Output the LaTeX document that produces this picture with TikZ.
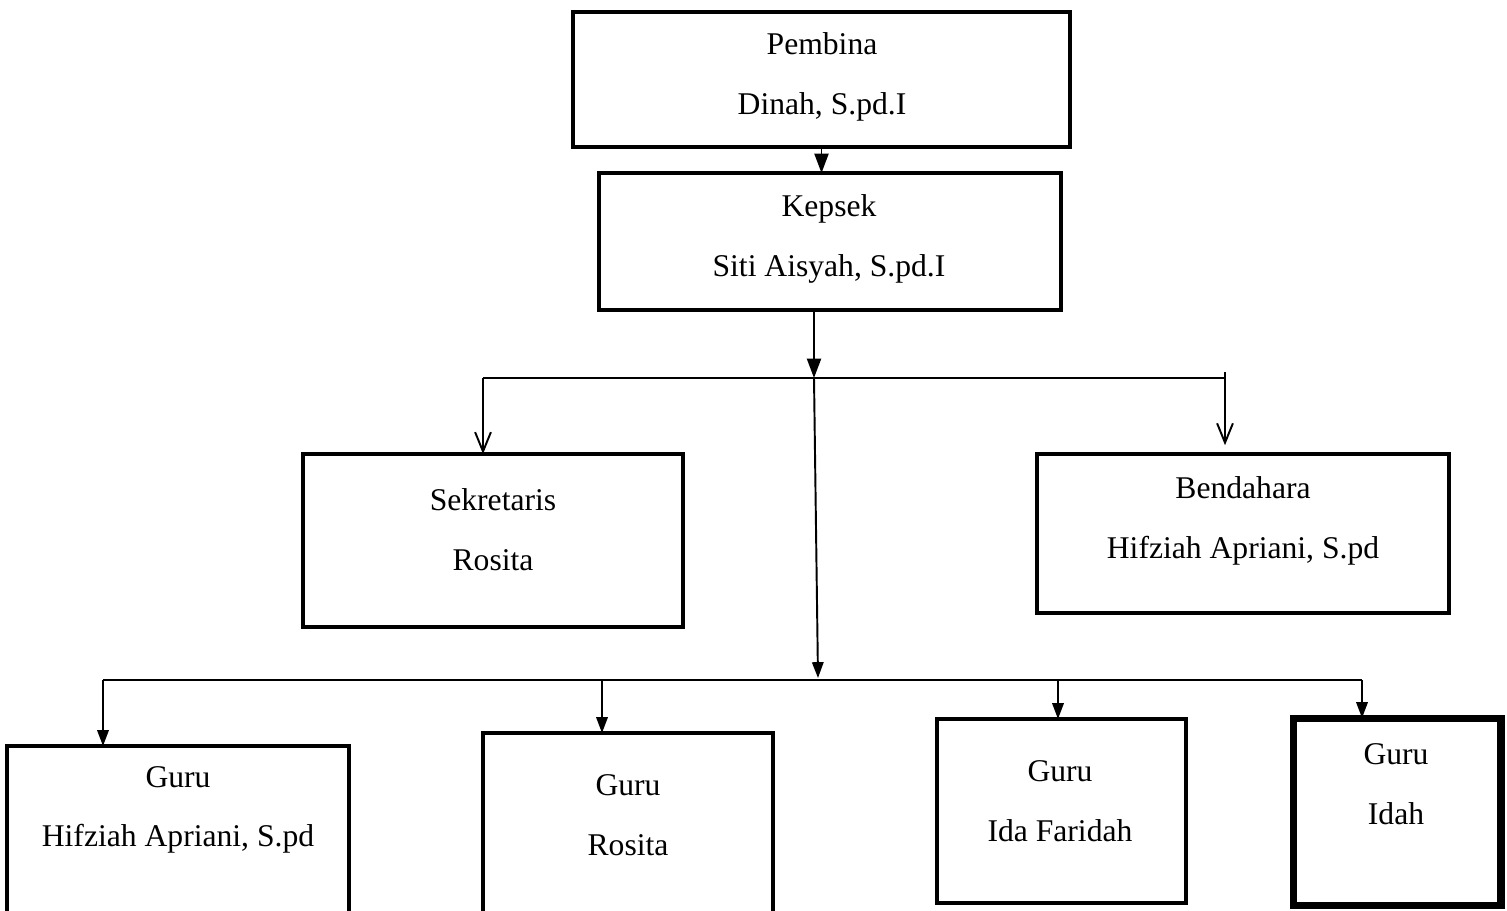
\documentclass[tikz,border=0pt]{standalone}
\usepackage{fontspec}
\setmainfont{Liberation Serif}
\usetikzlibrary{arrows.meta}
\begin{document}
\begin{tikzpicture}[x=0.02cm,y=-0.02cm,
  box/.style={draw, line width=2.7pt, inner sep=0pt, outer sep=0pt},
  txt/.style={align=center, font=\fontsize{18}{34}\selectfont},
  fat/.style={line width=1.1pt, -{Triangle[length=11pt,width=8pt]}},
  arr/.style={line width=1.1pt, -{Triangle[length=9pt,width=6.5pt]}},
  open/.style={line width=1.1pt, -{Straight Barb[length=11pt,width=9pt]}},
  hline/.style={line width=0.9pt}]
\useasboundingbox (0,0) rectangle (1507,911);
\clip (0,0) rectangle (1507,911);
% boxes
\node[box, minimum width=9.94cm, minimum height=2.70cm] (pem) at (821.5,79.5) {};
\node[box, minimum width=9.24cm, minimum height=2.74cm] (kep) at (830,241.5) {};
\node[box, minimum width=7.60cm, minimum height=3.46cm] (sek) at (493,540.5) {};
\node[box, minimum width=8.24cm, minimum height=3.18cm] (ben) at (1243,533.5) {};
\node[box, minimum width=6.84cm, minimum height=4.28cm] (g1) at (178,853) {};
\node[box, minimum width=5.80cm, minimum height=4.54cm] (g2) at (628,846.5) {};
\node[box, minimum width=4.98cm, minimum height=3.68cm] (g3) at (1061.5,811) {};
\node[box, line width=4pt, minimum width=4.16cm, minimum height=3.76cm] (g4) at (1397,812) {};
% texts
\node[txt] (pemt) at (822,77) {Pembina\\Dinah, S.pd.I};
\node[txt] (kept) at (829,239) {Kepsek\\Siti Aisyah, S.pd.I};
\node[txt] (sekt) at (493,530) {Sekretaris\\Rosita};
\node[txt] (bent) at (1243,521) {Bendahara\\Hifziah Apriani, S.pd};
\node[txt] (g1t) at (178,810) {Guru\\Hifziah Apriani, S.pd};
\node[txt] (g2t) at (628,815) {Guru\\Rosita};
\node[txt] (g3t) at (1060,801) {Guru\\Ida Faridah};
\node[txt] (g4t) at (1396,784) {Guru\\Idah};
% connectors
\draw[fat] (pem.south) -- (pem.south |- kep.north);
\coordinate (j1) at (814,378);
\coordinate (hl) at (483,378);
\coordinate (hr) at (1225,378);
\coordinate (ht) at (1225,372);
\coordinate (j2) at (818,678);
\coordinate (bl) at (103,680);
\coordinate (b2) at (602,680);
\coordinate (b3) at (1058,680);
\coordinate (br) at (1362,680);
\draw[fat] (kep.south -| j1) -- (j1);
\draw[hline] (hl) -- (hr);
\draw[open] (hl) -- (hl |- sek.north);
\draw[open, shorten >=5pt] (ht) -- (ht |- ben.north);
\draw[arr] (j1) -- (j2);
\draw[hline] (bl) -- (br);
\draw[arr] (bl) -- (bl |- g1.north);
\draw[arr] (b2) -- (b2 |- g2.north);
\draw[arr] (b3) -- (b3 |- g3.north);
\draw[arr] (br) -- (br |- g4.north);
\end{tikzpicture}
\end{document}
